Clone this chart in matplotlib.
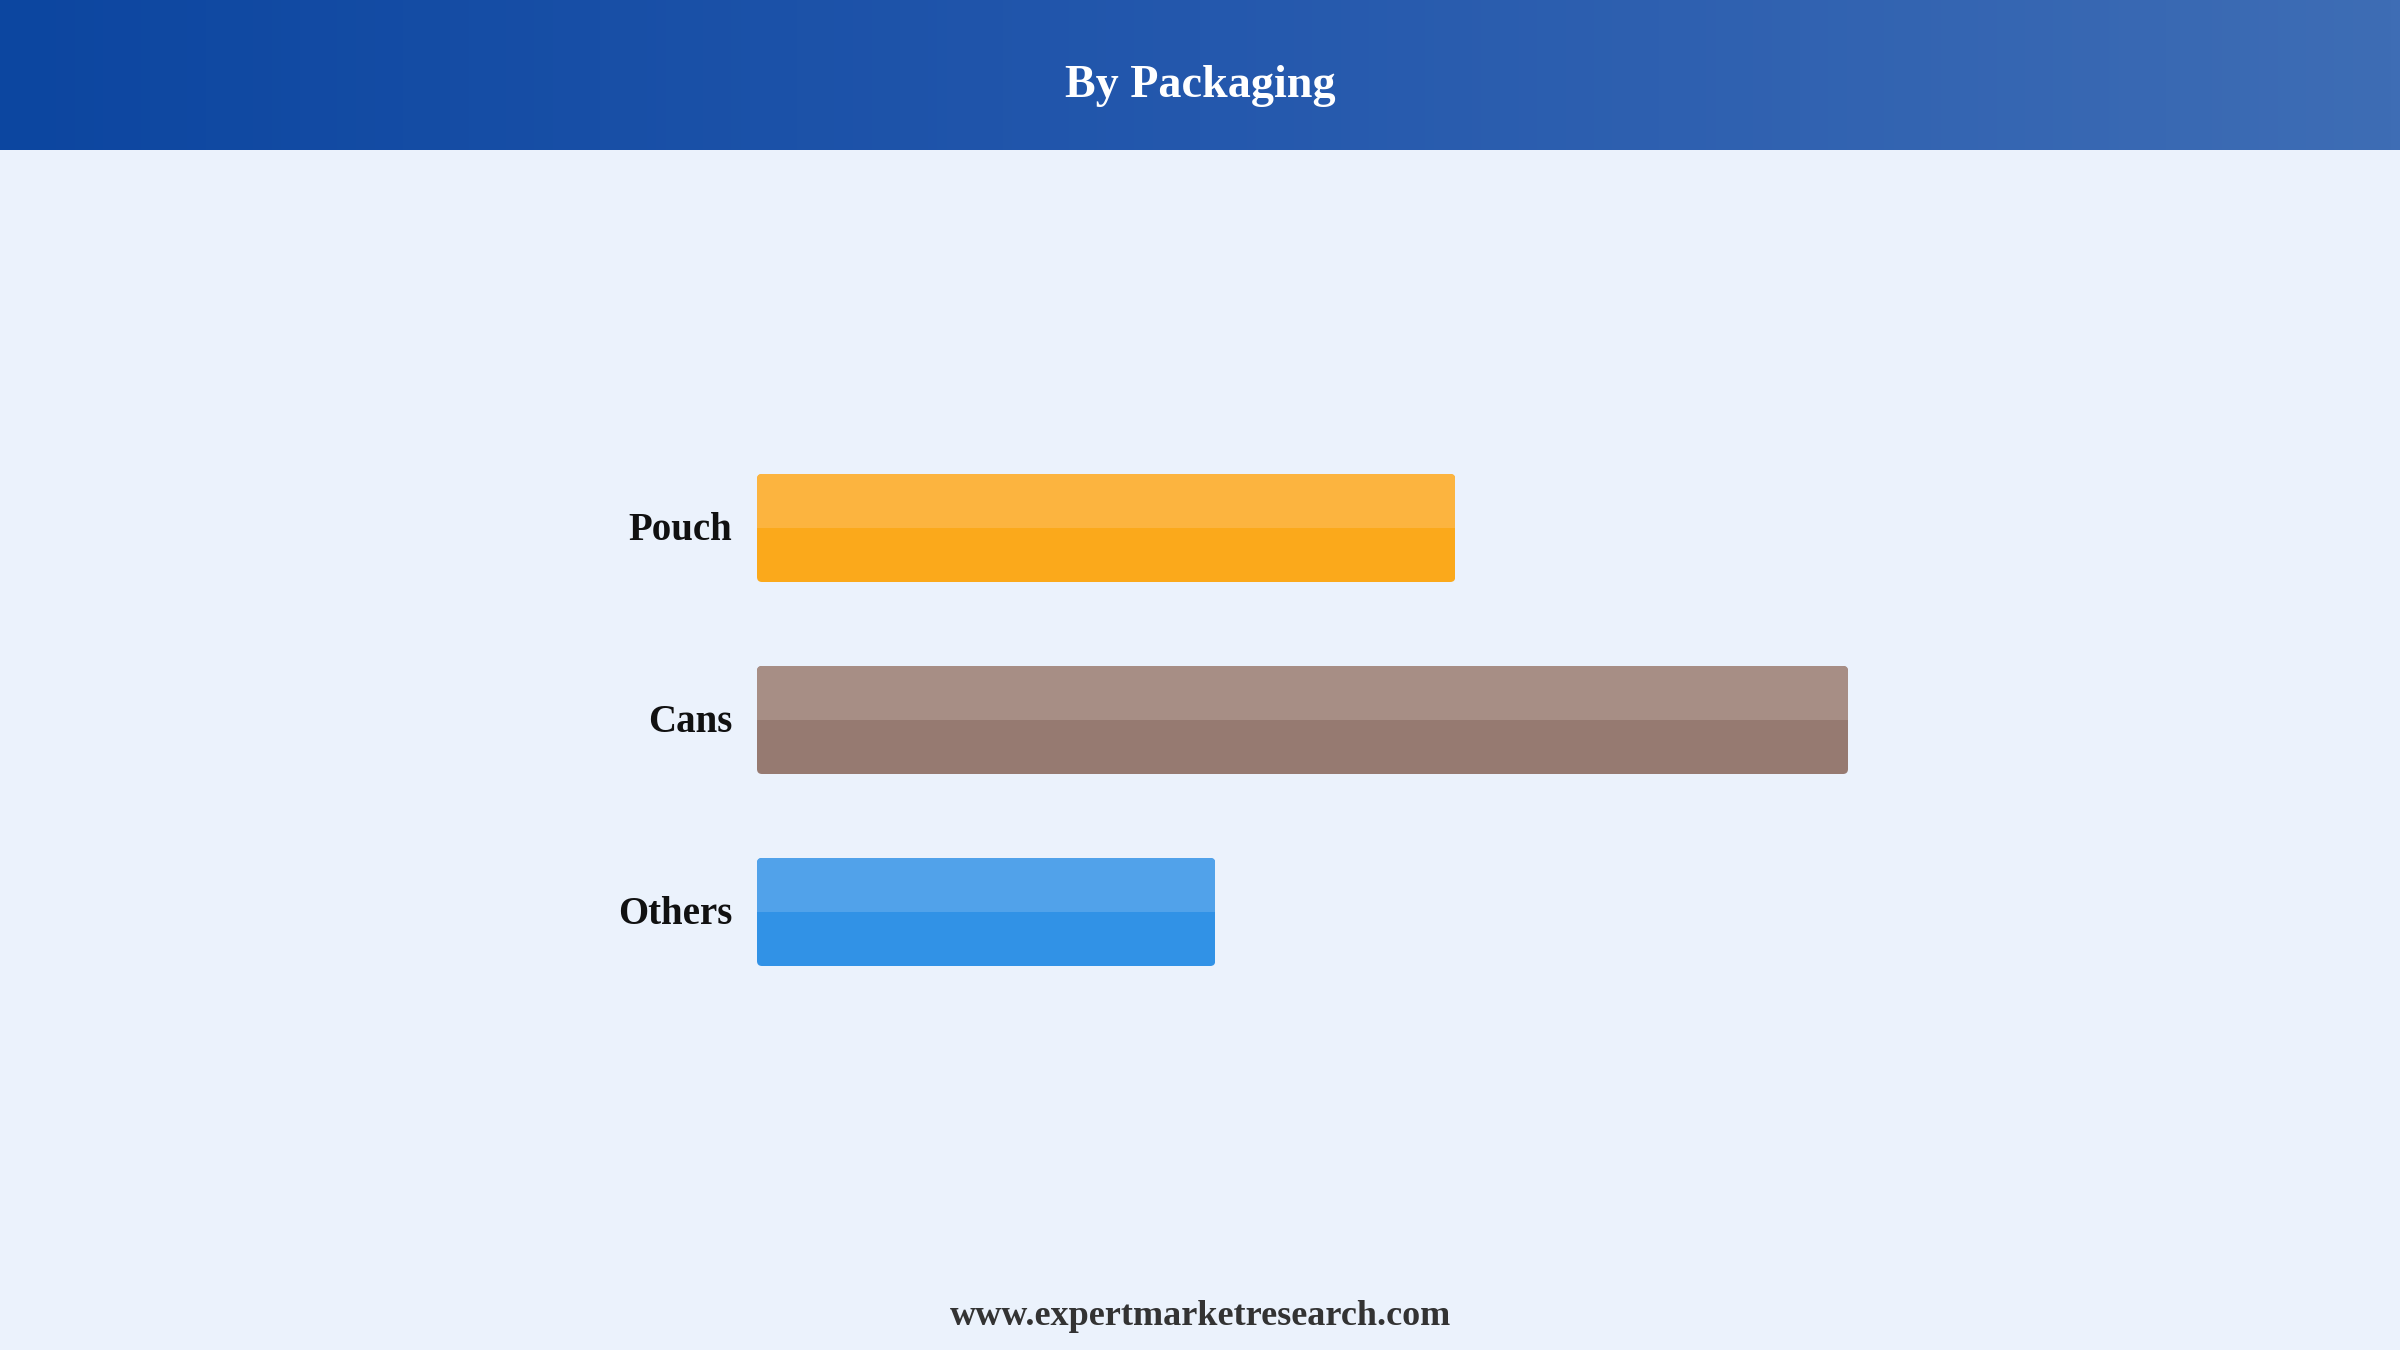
import numpy as np
import matplotlib
matplotlib.use("Agg")
import matplotlib.pyplot as plt
from matplotlib.patches import FancyBboxPatch
from matplotlib.colors import LinearSegmentedColormap

categories = ["Pouch", "Cans", "Others"]
values = [32, 50, 21]
top_colors = ["#FCB43F", "#A78E85", "#51A2EA"]
bottom_colors = ["#FBA91B", "#967A71", "#3192E6"]
title = "By Packaging"
footer = "www.expertmarketresearch.com"

W, H = 2400, 1350
DPI = 200
BG = "#EBF2FC"
SERIF = ["Liberation Serif", "DejaVu Serif"]

fig = plt.figure(figsize=(W / DPI, H / DPI), dpi=DPI, facecolor=BG)

# header gradient
hax = fig.add_axes([0, 1 - 150 / H, 1, 150 / H])
cmap = LinearSegmentedColormap.from_list("hdr", ["#0C46A0", "#2458AD", "#3E6DB5"])
grad = np.linspace(0, 1, 512).reshape(1, -1)
hax.imshow(grad, aspect="auto", cmap=cmap, extent=[0, 1, 0, 1])
hax.set_axis_off()
fig.text(0.5, 1 - 97 / H, title, ha="center", va="baseline", color="white",
         fontsize=16.6, fontweight="bold", family=SERIF)

# bar axes
left_px, right_px = 757, 1848
top_px, bot_px = 432, 1008
ax = fig.add_axes([left_px / W, 1 - bot_px / H, (right_px - left_px) / W, (bot_px - top_px) / H])
ax.set_facecolor(BG)
ax.set_xlim(0, 50)
ax.set_ylim(len(categories) - 0.5, -0.5)
ax.set_axis_off()

bar_h = 0.5625
ypos = np.arange(len(categories))
x_unit_px = (right_px - left_px) / 50
y_unit_px = (bot_px - top_px) / len(categories)
r_px = 5
rs = r_px / x_unit_px
aspect = (r_px / y_unit_px) / rs

bottoms = ax.barh(ypos, values, height=bar_h, color=bottom_colors, linewidth=0)
tops = ax.barh(ypos - bar_h / 4, values, height=bar_h / 2, color=top_colors, linewidth=0)

for i, (b, t) in enumerate(zip(bottoms, tops)):
    clip = FancyBboxPatch((b.get_x(), b.get_y()), b.get_width(), b.get_height(),
                          boxstyle=f"round,pad=0,rounding_size={rs}",
                          mutation_aspect=aspect, transform=ax.transData,
                          facecolor="none", edgecolor="none")
    ax.add_patch(clip)
    b.set_clip_path(clip)
    t.set_clip_path(clip)

for y, lab in zip(ypos, categories):
    fig.text(732 / W, 1 - (528 + 12 + y * 192) / H, lab, ha="right", va="baseline",
             color="#111111", fontsize=14, fontweight="bold", family=SERIF)

fig.text(0.5, 1 - 1325 / H, footer, ha="center", va="baseline", color="#333333",
         fontsize=13, fontweight="bold", family=SERIF)

fig.savefig("out.png", dpi=DPI, facecolor=BG)
